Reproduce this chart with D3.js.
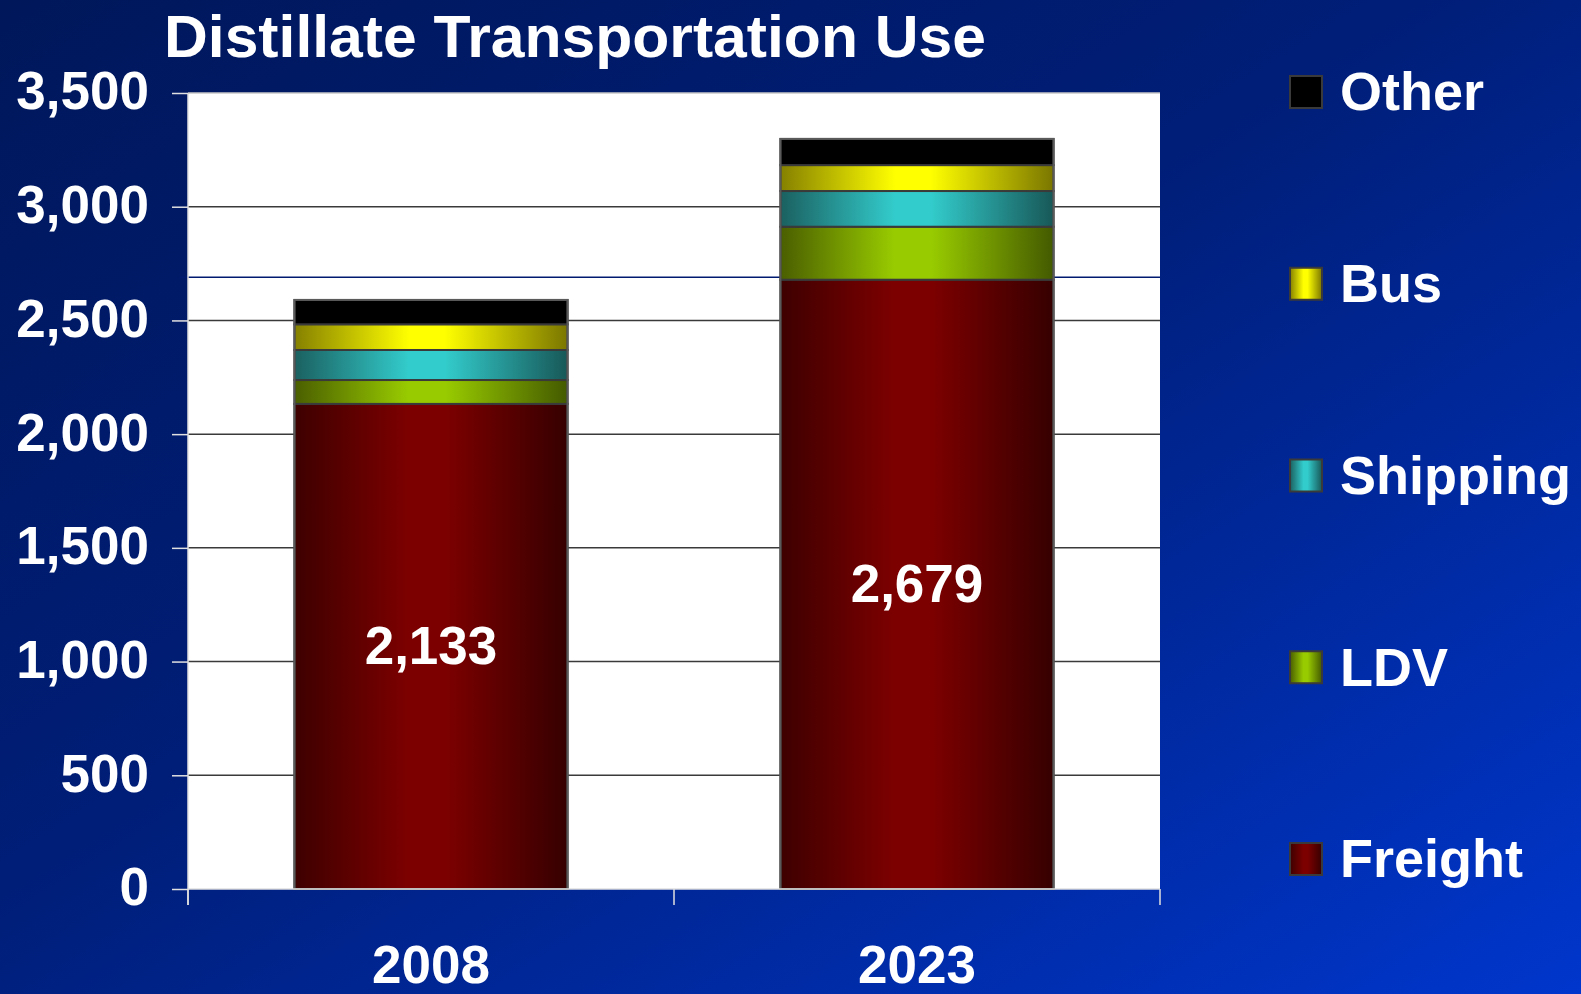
<!DOCTYPE html>
<html>
<head>
<meta charset="utf-8">
<script src="https://cdn.jsdelivr.net/npm/d3@7"></script>
<style>
html,body{margin:0;padding:0;overflow:hidden;background:#001a66;}
svg{display:block;font-family:"Liberation Sans",Arial,sans-serif;font-weight:bold;}
</style>
</head>
<body>
<svg id="chart" width="1581" height="994"></svg>
<script>
// ---- data ----
const years = ["2008", "2023"];
const seriesNames = ["Freight", "LDV", "Shipping", "Bus", "Other"];
const freight  = [2133, 2679];
const ldv      = [105, 233];
const shipping = [132, 157];
const bus      = [113, 114];
const other    = [107, 115];
const yTicks = [0, 500, 1000, 1500, 2000, 2500, 3000, 3500];
const freightLabels = ["2,133", "2,679"];
const strayLine = 2690;
const legendOrder = ["Other", "Bus", "Shipping", "LDV", "Freight"];

const seriesValues = {Freight: freight, LDV: ldv, Shipping: shipping, Bus: bus, Other: other};
const colors = {
  Freight:  {edge: "#3e0000", mid: "#7d0000", edge2: "#360000"},
  LDV:      {edge: "#4a5e00", mid: "#99cc00", edge2: "#445a00"},
  Shipping: {edge: "#1b6060", mid: "#33cccc", edge2: "#185858"},
  Bus:      {edge: "#858000", mid: "#ffff00", edge2: "#7a7600"},
  Other:    {edge: "#000000", mid: "#000000", edge2: "#000000"}
};

const svg = d3.select("#chart");
const W = 1581, H = 994;
const defs = svg.append("defs");

// background
const bg = defs.append("linearGradient").attr("id","bg")
  .attr("x1","0").attr("y1","0").attr("x2","1").attr("y2","1");
bg.append("stop").attr("offset","0%").attr("stop-color","#00175a");
bg.append("stop").attr("offset","45%").attr("stop-color","#001e78");
bg.append("stop").attr("offset","100%").attr("stop-color","#0036cc");
svg.append("rect").attr("width",W).attr("height",H).attr("fill","url(#bg)");

// gradients for series
seriesNames.forEach(s => {
  const g = defs.append("linearGradient").attr("id","g-"+s)
    .attr("x1","0").attr("y1","0").attr("x2","1").attr("y2","0");
  g.append("stop").attr("offset","0%").attr("stop-color",colors[s].edge);
  g.append("stop").attr("offset","42%").attr("stop-color",colors[s].mid);
  g.append("stop").attr("offset","55%").attr("stop-color",colors[s].mid);
  g.append("stop").attr("offset","100%").attr("stop-color",colors[s].edge2);
});

const plot = {left: 188, right: 1160, top: 93, bottom: 889};
const x = d3.scaleBand().domain(years).range([plot.left, plot.right]).paddingInner(0.438).paddingOuter(0.219);
const y = d3.scaleLinear().domain([0, 3500]).range([plot.bottom, plot.top]);

// plot area
svg.append("rect").attr("x",plot.left).attr("y",plot.top)
  .attr("width",plot.right-plot.left).attr("height",plot.bottom-plot.top).attr("fill","#ffffff");

// gridlines
svg.append("g").selectAll("line").data(yTicks.filter(t => t>0 && t<3500)).join("line")
  .attr("x1",plot.left).attr("x2",plot.right)
  .attr("y1",d=>y(d)).attr("y2",d=>y(d))
  .attr("stroke","#3a3a3a").attr("stroke-width",1.5);

// stray navy line
svg.append("line").attr("x1",180).attr("x2",plot.right)
  .attr("y1",y(strayLine)).attr("y2",y(strayLine))
  .attr("stroke","#001a70").attr("stroke-width",1.5);

// stacked bars
const table = years.map((yr,i) => {
  const o = {year: yr};
  seriesNames.forEach(s => o[s] = seriesValues[s][i]);
  return o;
});
const stacked = d3.stack().keys(seriesNames)(table);
const barG = svg.append("g");
stacked.forEach(layer => {
  barG.append("g").selectAll("rect").data(layer).join("rect")
    .attr("x", d => x(d.data.year))
    .attr("width", x.bandwidth())
    .attr("y", d => y(d[1]))
    .attr("height", d => y(d[0]) - y(d[1]))
    .attr("fill", "url(#g-"+layer.key+")")
    .attr("stroke", "#3a3a3a").attr("stroke-width", 2);
});
// outer outline
barG.append("g").selectAll("rect").data(table).join("rect")
  .attr("x", d => x(d.year)).attr("width", x.bandwidth())
  .attr("y", d => y(seriesNames.reduce((a,s)=>a+d[s],0)))
  .attr("height", d => y(0) - y(seriesNames.reduce((a,s)=>a+d[s],0)))
  .attr("fill","none").attr("stroke","#5a5a5a").attr("stroke-width",2);

// freight labels
svg.append("g").selectAll("text").data(table).join("text")
  .attr("x", d => x(d.year) + x.bandwidth()/2)
  .attr("y", d => (y(0) + y(d.Freight))/2)
  .attr("dy","0.34em")
  .attr("text-anchor","middle").attr("fill","#ffffff").attr("font-size",53)
  .text((d,i) => freightLabels[i]);

// axes
const axisColor = "#e0e0e0";
svg.append("line").attr("x1",plot.left).attr("x2",plot.left).attr("y1",plot.top).attr("y2",plot.bottom+16)
  .attr("stroke",axisColor).attr("stroke-width",1.5);
svg.append("line").attr("x1",plot.left).attr("x2",plot.right).attr("y1",plot.bottom).attr("y2",plot.bottom)
  .attr("stroke",axisColor).attr("stroke-width",1.5);
// y ticks
const yAxis = d3.axisLeft(y).tickValues(yTicks).tickSize(16).tickPadding(24).tickFormat(d3.format(","));
const ya = svg.append("g").attr("transform",`translate(${plot.left},0)`).call(yAxis);
ya.select(".domain").remove();
ya.selectAll("line").attr("stroke",axisColor).attr("stroke-width",1.5);
ya.selectAll("text").attr("fill","#ffffff").attr("font-size",53)
  .attr("font-family","'Liberation Sans',Arial,sans-serif").attr("font-weight","bold")
  .attr("x",-39).attr("dy","0.3em");
// top border line at 3500
svg.append("line").attr("x1",plot.left).attr("x2",plot.right).attr("y1",y(3500)).attr("y2",y(3500))
  .attr("stroke","#c8c8c8").attr("stroke-width",1.5);
// x ticks at band edges
const xEdges = [plot.left, (plot.left+plot.right)/2, plot.right];
svg.append("g").selectAll("line").data(xEdges).join("line")
  .attr("x1",d=>d).attr("x2",d=>d).attr("y1",plot.bottom).attr("y2",plot.bottom+16)
  .attr("stroke",axisColor).attr("stroke-width",1.5);
// x labels
svg.append("g").selectAll("text").data(years).join("text")
  .attr("x", d => x(d) + x.bandwidth()/2).attr("y", 983)
  .attr("text-anchor","middle").attr("fill","#ffffff").attr("font-size",53)
  .text(d => d);

// title
svg.append("text").attr("x",164).attr("y",57).attr("fill","#ffffff")
  .attr("font-size",60).attr("textLength",822).attr("lengthAdjust","spacingAndGlyphs")
  .text("Distillate Transportation Use");

// legend
const legendY = d3.scalePoint().domain(legendOrder).range([92, 859]);
const lg = svg.append("g").selectAll("g").data(legendOrder).join("g")
  .attr("transform", d => `translate(1290,${legendY(d)})`);
lg.append("rect").attr("x",0).attr("y",-16).attr("width",32).attr("height",32)
  .attr("fill", d => "url(#g-"+d+")").attr("stroke","#3a3a3a").attr("stroke-width",2);
lg.append("text").attr("x",50).attr("dy","0.34em").attr("fill","#ffffff").attr("font-size",54)
  .text(d => d);
</script>
</body>
</html>
